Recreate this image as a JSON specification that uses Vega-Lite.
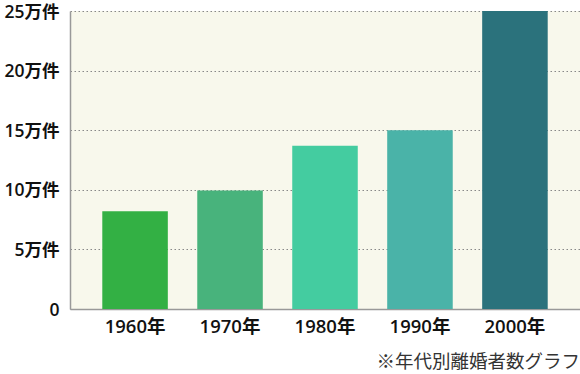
{
  "$schema": "https://vega.github.io/schema/vega-lite/v6.json",
  "autosize": {"type": "none"},
  "padding": {"left": 70, "top": 11, "right": 0, "bottom": 65},
  "width": 510,
  "height": 298,
  "background": "#ffffff",
  "data": {
    "values": [
      {"year": "1960年", "value": 8.2, "c": "a"},
      {"year": "1970年", "value": 9.95, "c": "b"},
      {"year": "1980年", "value": 13.7, "c": "c"},
      {"year": "1990年", "value": 15.0, "c": "d"},
      {"year": "2000年", "value": 25.0, "c": "e"}
    ]
  },
  "title": {
    "text": "※年代別離婚者数グラフ",
    "orient": "bottom",
    "anchor": "end",
    "offset": 17,
    "font": "Noto Sans CJK JP",
    "fontSize": 18.5,
    "fontWeight": "normal",
    "color": "#333333"
  },
  "config": {
    "view": {"fill": "#f8f8ec", "stroke": null},
    "font": "Noto Sans CJK JP"
  },
  "mark": {"type": "bar"},
  "encoding": {
    "x": {
      "field": "year",
      "type": "nominal",
      "sort": null,
      "scale": {"paddingInner": 0.31, "paddingOuter": 0.34},
      "axis": {
        "title": null,
        "labelAngle": 0,
        "labelFont": "Open Sans, Noto Sans CJK JP",
        "labelFontSize": 18.5,
        "labelFontWeight": 600,
        "labelColor": "#111111",
        "labelPadding": 8,
        "ticks": false,
        "domainColor": "#999999",
        "domainWidth": 1.5
      }
    },
    "y": {
      "field": "value",
      "type": "quantitative",
      "scale": {"domain": [0, 25], "nice": false},
      "axis": {
        "title": null,
        "values": [0, 5, 10, 15, 20, 25],
        "labelExpr": "datum.value == 0 ? '0' : datum.value + '万件'",
        "labelFont": "Open Sans, Noto Sans CJK JP",
        "labelFontSize": 17.5,
        "labelFontWeight": 600,
        "labelColor": "#111111",
        "labelPadding": 11,
        "labelOffset": 1,
        "ticks": false,
        "domainColor": "#999999",
        "domainWidth": 1.5,
        "grid": true,
        "gridColor": "#888888",
        "gridDash": [1.5, 2.5],
        "gridWidth": 1
      }
    },
    "color": {
      "field": "c",
      "type": "nominal",
      "legend": null,
      "scale": {
        "domain": ["a", "b", "c", "d", "e"],
        "range": ["#33b044", "#48b37c", "#44cca0", "#4ab3a8", "#2b727c"]
      }
    }
  }
}
